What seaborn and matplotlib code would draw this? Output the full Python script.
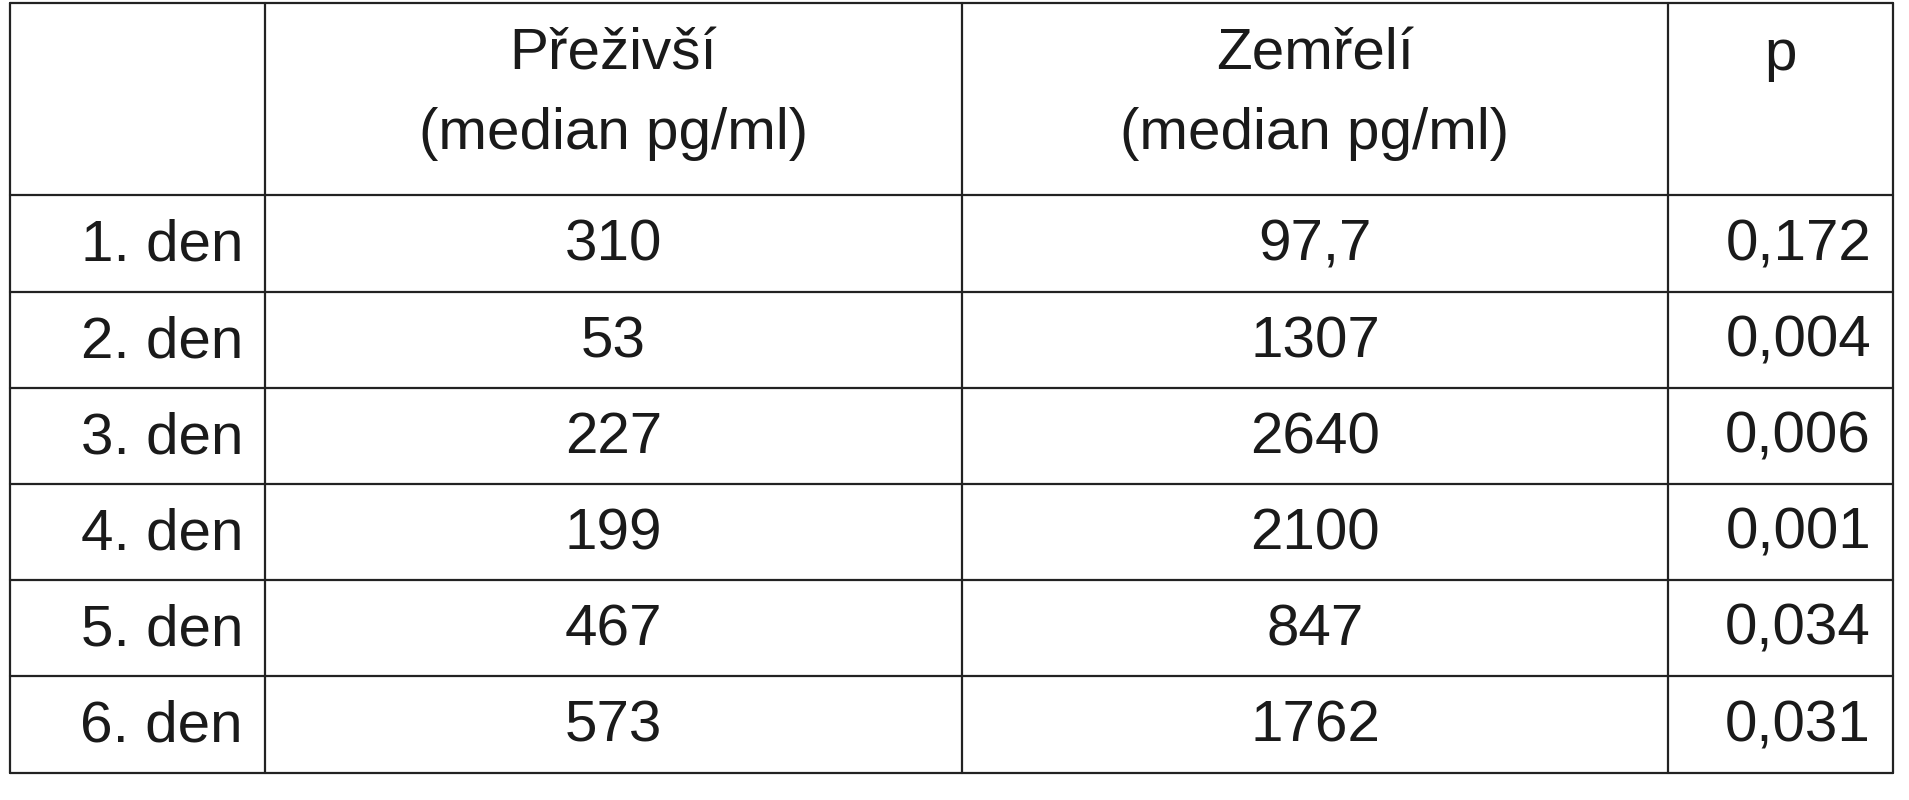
import matplotlib
matplotlib.use("Agg")
import matplotlib.pyplot as plt
import seaborn as sns

sns.set_theme(style="white")
plt.rcParams['font.family'] = ['Liberation Sans', 'DejaVu Sans']

headers = ["", "Přeživší\n(median pg/ml)", "Zemřelí\n(median pg/ml)", "p"]
days = ["1. den", "2. den", "3. den", "4. den", "5. den", "6. den"]
survivors = ["310", "53", "227", "199", "467", "573"]
deceased = ["97,7", "1307", "2640", "2100", "847", "1762"]
pvals = ["0,172", "0,004", "0,006", "0,001", "0,034", "0,031"]

W, H = 1909, 800
fig = plt.figure(figsize=(W / 100, H / 100), dpi=100)
ax = fig.add_axes([0, 0, 1, 1])
ax.set_xlim(0, W)
ax.set_ylim(H, 0)
ax.axis("off")

cols = [10, 265, 962, 1668, 1893]
rows = [3, 195, 292, 388, 484, 580, 676, 773]
lc = "#222222"
for x in cols:
    ax.plot([x, x], [rows[0], rows[-1]], color=lc, lw=1.6)
for y in rows:
    ax.plot([cols[0], cols[-1]], [y, y], color=lc, lw=1.6)

fs = 42
col_c = [(cols[i] + cols[i + 1]) / 2 for i in range(4)]
for i, h in enumerate(headers):
    if h:
        ax.text(col_c[i], 28, h, ha="center", va="top", fontsize=fs,
                color="#1a1a1a", linespacing=1.6)

for r in range(len(days)):
    yc = (rows[r + 1] + rows[r + 2]) / 2 + 2
    ax.text(cols[1] - 22, yc, days[r], ha="right", va="center", fontsize=fs, color="#1a1a1a")
    ax.text(col_c[1], yc, survivors[r], ha="center", va="center", fontsize=fs, color="#1a1a1a")
    ax.text(col_c[2], yc, deceased[r], ha="center", va="center", fontsize=fs, color="#1a1a1a")
    ax.text(cols[4] - 22, yc, pvals[r], ha="right", va="center", fontsize=fs, color="#1a1a1a")

fig.savefig("out.png", dpi=100, facecolor="white")
